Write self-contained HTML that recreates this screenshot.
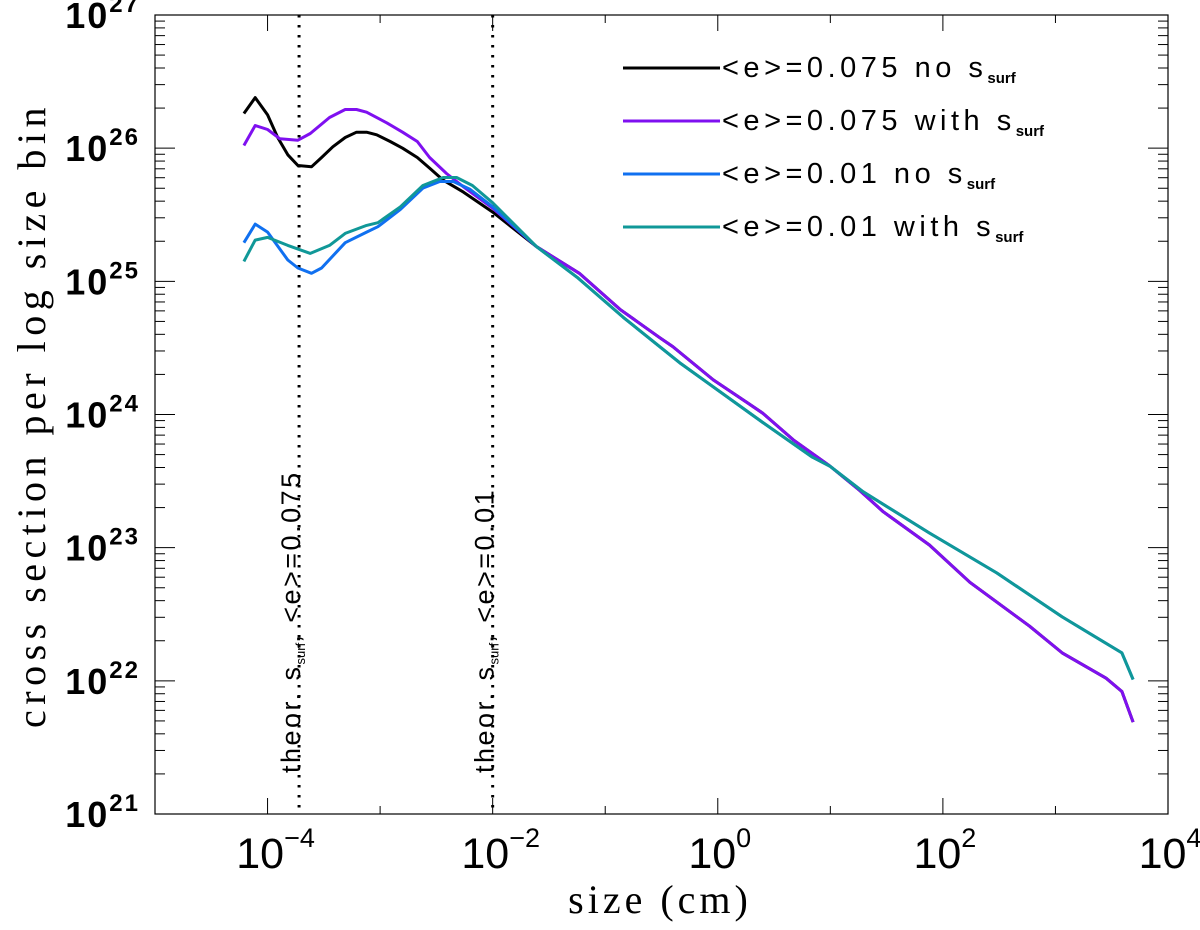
<!DOCTYPE html>
<html><head><meta charset="utf-8"><style>
body{margin:0;background:#fff}
svg{display:block}
</style></head><body>
<svg id="chart" width="1200" height="930" xmlns="http://www.w3.org/2000/svg">
<g id="axes"></g>
<g id="series"></g>
<g id="legend"></g>
</svg>
<script>
const xTicks=[-4,-2,0,2,4];
const yTicks=[21,22,23,24,25,26,27];
const refLines=[-3.72,-2.0];
const refLabels=["0.075","0.01"];
const seriesNames=["<e>=0.075 no s","<e>=0.075 with s","<e>=0.01 no s","<e>=0.01 with s"];
const seriesColors=["#000000","#7f10f0","#1070f0","#109898"];
const tailPX=[-1.61,-1.23,-0.87,-0.52,-0.40,-0.04,0.26,0.40,0.67,1.00,1.26,1.47,1.88,2.24,2.77,3.06,3.45,3.59,3.69];
const tailPY=[25.26,25.06,24.79,24.58,24.51,24.26,24.09,24.01,23.81,23.61,23.43,23.27,23.02,22.74,22.41,22.21,22.02,21.92,21.69];
const tailTX=[-1.61,-1.25,-0.84,-0.34,0.40,0.84,1.00,1.29,1.88,2.48,3.06,3.59,3.69];
const tailTY=[25.26,25.03,24.73,24.39,23.94,23.68,23.61,23.42,23.11,22.81,22.48,22.21,22.01];
const blackX=[-4.21,-4.11,-4.00,-3.91,-3.82,-3.73,-3.61,-3.52,-3.42,-3.31,-3.21,-3.12,-3.03,-2.91,-2.80,-2.67,-2.56,-2.44,-2.26,-2.00];
const blackY=[26.26,26.38,26.25,26.08,25.95,25.87,25.86,25.93,26.01,26.08,26.12,26.12,26.10,26.05,26.00,25.93,25.85,25.76,25.67,25.52];
const purpleX=[-4.21,-4.11,-4.00,-3.89,-3.73,-3.62,-3.45,-3.31,-3.21,-3.12,-2.94,-2.80,-2.67,-2.56,-2.41,-2.26,-2.00];
const purpleY=[26.02,26.17,26.14,26.07,26.06,26.11,26.23,26.29,26.29,26.27,26.19,26.12,26.05,25.93,25.81,25.71,25.55];
const blueX=[-4.21,-4.11,-4.00,-3.82,-3.73,-3.61,-3.52,-3.31,-3.12,-3.02,-2.82,-2.62,-2.47,-2.35,-2.20,-2.00];
const blueY=[25.29,25.43,25.37,25.16,25.10,25.06,25.10,25.29,25.37,25.41,25.54,25.70,25.75,25.75,25.69,25.56];
const tealX=[-4.21,-4.11,-4.00,-3.82,-3.62,-3.45,-3.31,-3.12,-3.02,-2.82,-2.62,-2.44,-2.32,-2.18,-2.00];
const tealY=[25.15,25.31,25.33,25.27,25.21,25.27,25.36,25.42,25.44,25.56,25.72,25.78,25.78,25.72,25.59];

const L=155,R=1168,T=15,B=814,XMIN=-5,XMAX=4,YMIN=21,YMAX=27;
const sx=v=>L+(v-XMIN)/(XMAX-XMIN)*(R-L);
const sy=v=>B-(v-YMIN)/(YMAX-YMIN)*(B-T);
const NS="http://www.w3.org/2000/svg";
function mk(tag,attrs,parent){const e=document.createElementNS(NS,tag);for(const k in attrs)e.setAttribute(k,attrs[k]);parent.appendChild(e);return e;}
const axes=document.getElementById('axes');
const frame=mk('rect',{x:L,y:T,width:R-L,height:B-T,fill:'none',stroke:'#000','stroke-width':1.2},axes);


for(let d=YMIN;d<YMAX;d++){for(let m=1;m<10;m++){const v=d+Math.log10(m);const y=sy(v);const len=m==1?20:10;
 const t1=mk('line',{x1:L,x2:L+len,y1:y,y2:y,stroke:'#000','stroke-width':1},axes);
 
 
 const t2=mk('line',{x1:R,x2:R-len,y1:y,y2:y,stroke:'#000','stroke-width':1},axes);
 
 }}
yTicks.forEach(v=>{const t=mk('text',{x:140,y:sy(v)+13,'text-anchor':'end','font-family':'Liberation Sans, sans-serif','font-weight':'bold','font-size':36,'letter-spacing':2,fill:'#000'},axes);
 
 
 t.innerHTML='10<tspan dy="-16" font-size="24">'+v+'</tspan>';});
for(let d=XMIN;d<=XMAX;d++){const x=sx(d);const len=(d%2==0)?16:8;
 const a=mk('line',{x1:x,x2:x,y1:B,y2:B-len,stroke:'#000','stroke-width':1},axes);
 
 
 const b=mk('line',{x1:x,x2:x,y1:T,y2:T+len,stroke:'#000','stroke-width':1},axes);
 
 }
xTicks.forEach(v=>{const t=mk('text',{x:sx(v)+(v<0?8:2),y:868,'text-anchor':'middle','font-family':'Liberation Sans, sans-serif','font-size':43,fill:'#000'},axes);
 
 
 t.innerHTML='10<tspan dy="-21" font-size="27">'+(v<0?'\u2212'+(-v):v)+'</tspan>';});
const xt=mk('text',{x:660,y:913,'text-anchor':'middle','font-family':'Liberation Serif, serif','font-size':40,'letter-spacing':4,fill:'#000'},axes);


xt.textContent='size (cm)';
const yt=mk('text',{x:0,y:0,transform:'translate(45,415) rotate(-90)','text-anchor':'middle','font-family':'Liberation Serif, serif','font-size':40,'letter-spacing':5.5,fill:'#000'},axes);


yt.textContent='cross section per log size bin';
refLines.forEach((v,i)=>{const x=sx(v);
 const l=mk('line',{x1:x,x2:x,y1:T,y2:B,stroke:'#000','stroke-width':3,'stroke-dasharray':'2.5,7.5'},axes);
 
 
 const t=mk('text',{x:0,y:0,transform:'translate('+(x+1)+',773) rotate(-90)','font-family':'Liberation Sans, sans-serif','font-size':27,'letter-spacing':2.5,fill:'#000'},axes);
 
 
 t.innerHTML='theor. s<tspan dy="5" font-size="13" letter-spacing="0">surf</tspan><tspan dy="-5">, &lt;e&gt;='+refLabels[i]+'</tspan>';});
const sg=document.getElementById('series');
const data=[[blackX.concat(tailPX),blackY.concat(tailPY)],[purpleX.concat(tailPX),purpleY.concat(tailPY)],[blueX.concat(tailTX),blueY.concat(tailTY)],[tealX.concat(tailTX),tealY.concat(tailTY)]];
const names=['series-e0075-no-ssurf','series-e0075-with-ssurf','series-e001-no-ssurf','series-e001-with-ssurf'];
data.forEach((s,i)=>{const pts=s[0].map((x,j)=>sx(x).toFixed(1)+','+sy(s[1][j]).toFixed(1)).join(' ');
 const p=mk('polyline',{points:pts,fill:'none',stroke:seriesColors[i],'stroke-width':3,'stroke-linejoin':'round'},sg);
 
 });
const lg=document.getElementById('legend');
seriesNames.forEach((n,i)=>{const y=68+i*53;
 const l=mk('line',{x1:623,x2:720,y1:y,y2:y,stroke:seriesColors[i],'stroke-width':3},lg);
 
 
 const t=mk('text',{x:722,y:y+9,'font-family':'Liberation Sans, sans-serif','font-size':29,'letter-spacing':4.5,fill:'#000'},lg);
 
 
 t.innerHTML=n.replace(/</g,'&lt;').replace(/>/g,'&gt;').replace(/ /g,'\u00a0')+'<tspan dy="6" font-size="15" font-weight="bold" letter-spacing="0">surf</tspan>';});
</script>
</body></html>
